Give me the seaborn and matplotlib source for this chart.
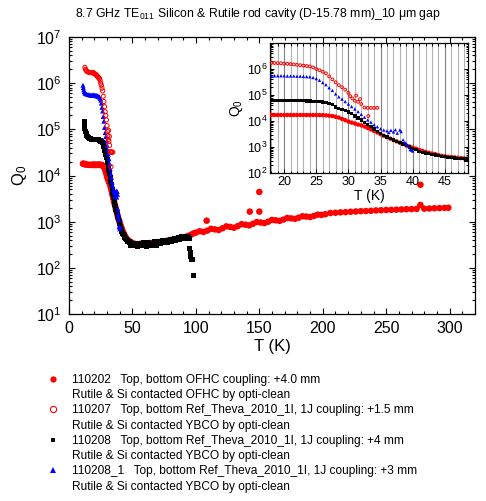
import numpy as np
import matplotlib
matplotlib.use("Agg")
import matplotlib.pyplot as plt
import seaborn as sns
from matplotlib.ticker import LogLocator, MultipleLocator, NullFormatter
from matplotlib.lines import Line2D

# ---------------- data ----------------
# 110202 (red filled circles)
T_202 = [11, 11.5, 12, 12.5, 13, 14, 15, 16, 17, 18,
         18.5, 19, 19.5, 20, 20.5, 21, 21.5, 22, 22.5, 23,
         23.5, 24, 24.5, 25, 25.5, 26, 26.5, 27, 27.5, 28,
         28.5, 29, 29.5, 30, 30.5, 31, 31.5, 32, 32.5, 33,
         33.5, 34, 34.5, 35, 35.5, 36, 36.5, 37, 37.5, 38,
         38.5, 39, 39.5, 40, 40.5, 41, 41.5, 42, 42.5, 43,
         43.5, 44, 44.5, 45, 45.5, 46, 46.5, 47, 47.5, 48,
         48.5, 49, 50, 52, 54, 56, 58, 60, 62, 64,
         66, 68, 70, 72, 74, 76, 78, 80, 82, 84,
         86, 88, 90, 92, 94, 96, 98, 100, 103, 106,
         109, 112, 115, 118, 121, 124, 127, 130, 133, 136,
         139, 142, 145, 148, 151, 154, 157, 160, 163, 166,
         169, 172, 175, 178, 181, 184, 187, 190, 193, 196,
         199, 202, 206, 210, 214, 218, 222, 226, 230, 234,
         238, 242, 246, 250, 254, 258, 262, 266, 270, 274,
         277, 280, 284, 288, 292, 296, 299,
         108.5, 142.5, 150, 150, 277]
Q_202 = [1.8e4, 1.8e4, 1.78e4, 1.76e4, 1.75e4, 1.72e4, 1.7e4, 1.7e4, 1.7e4, 1.7e4,
         1.7e4, 1.7e4, 1.7e4, 1.7e4, 1.7e4, 1.7e4, 1.7e4, 1.7e4, 1.7e4, 1.7e4,
         1.7e4, 1.7e4, 1.7e4, 1.7e4, 1.69e4, 1.68e4, 1.65e4, 1.6e4, 1.55e4, 1.45e4,
         1.35e4, 1.2e4, 1.08e4, 9.5e3, 8.7e3, 8.0e3, 7.3e3, 6.8e3, 6.1e3, 5.4e3,
         4.7e3, 4.1e3, 3.6e3, 3.1e3, 2.7e3, 2.4e3, 2.1e3, 1.85e3, 1.65e3, 1.45e3,
         1.3e3, 1.15e3, 1.05e3, 950, 860, 780, 710, 650, 600, 560,
         530, 490, 460, 440, 420, 410, 400, 385, 375, 365,
         360, 355, 345, 330, 320, 330, 335, 325, 335, 345,
         340, 350, 355, 365, 370, 380, 390, 400, 410, 420,
         430, 445, 455, 470, 490, 520, 555, 580, 620, 600,
         640, 700, 680, 660, 720, 790, 770, 740, 800, 880,
         860, 830, 900, 980, 960, 930, 1000, 1090, 1070, 1040,
         1110, 1200, 1180, 1150, 1220, 1310, 1290, 1260, 1330, 1420,
         1400, 1450, 1540, 1560, 1590, 1610, 1640, 1660, 1690, 1700,
         1720, 1750, 1770, 1790, 1800, 1820, 1840, 1860, 1870, 1890,
         2300, 1910, 1930, 1950, 1970, 1990, 2000,
         1050, 1650, 1650, 4400, 6300]

# 110207 (red open circles)
T_207 = [12.5, 13, 13.5, 14, 15, 16, 17, 18, 18.5, 19,
         19.5, 20, 20.5, 21, 21.5, 22, 22.5, 23, 23.5, 24,
         24.5, 25, 25.5, 26, 26.5, 27, 27.5, 28, 28.5, 29,
         29.5, 30, 30.3, 30.6, 31, 31.2, 31.5, 31.8, 32, 32.5,
         33, 33.1, 33.5, 34, 34.5]
Q_207 = [2.2e6, 2.0e6, 1.9e6, 1.8e6, 1.75e6, 1.7e6, 1.7e6, 1.7e6, 1.7e6, 1.68e6,
         1.65e6, 1.6e6, 1.58e6, 1.55e6, 1.5e6, 1.45e6, 1.4e6, 1.35e6, 1.3e6, 1.25e6,
         1.15e6, 1.0e6, 9e5, 7.8e5, 6.8e5, 5.2e5, 4e5, 3.1e5, 2.4e5, 2e5,
         1.6e5, 1.2e5, 9e4, 7.4e4, 6e4, 9.5e4, 5.5e4, 7e4, 4.5e4, 3.3e4,
         3.2e4, 1.55e4, 3.2e4, 3.2e4, 3.2e4]

# 110208 (black squares)
T_208 = [12, 12.3, 12.6, 13, 13.5, 14, 14.5, 15, 16, 17,
         18, 18.5, 19, 19.5, 20, 20.5, 21, 21.5, 22, 22.5,
         23, 23.5, 24, 24.5, 25, 25.5, 26, 26.5, 27, 27.5,
         28, 28.5, 29, 29.5, 30, 30.5, 31, 31.5, 32, 32.5,
         33, 33.5, 34, 34.5, 35, 35.5, 36, 36.5, 37, 37.5,
         38, 38.5, 39, 39.5, 40, 40.5, 41, 41.5, 42, 42.5,
         43, 43.5, 44, 44.5, 45, 45.5, 46, 46.5, 47, 47.5,
         48, 48.3, 48.6, 49, 50, 51, 52, 53, 54, 55,
         56, 57, 58, 59, 60, 61, 62, 63, 64, 65,
         66, 67, 68, 69, 70, 71, 72, 73, 74, 75,
         76, 77, 78, 79, 80, 81, 82, 83, 84, 85,
         86, 87, 88, 89, 90, 91, 92, 93, 94, 95,
         95.3, 95.6, 96, 96.5, 97, 98.4]
Q_208 = [1.5e5, 1.3e5, 1.05e5, 9e4, 8e4, 7.3e4, 7e4, 6.8e4, 6.4e4, 6.2e4,
         6e4, 6e4, 6e4, 6e4, 6e4, 6e4, 6e4, 6e4, 6e4, 6e4,
         6e4, 5.9e4, 5.8e4, 5.6e4, 5.5e4, 5.5e4, 5.4e4, 5.2e4, 4.8e4, 4.2e4,
         3.5e4, 3.1e4, 2.8e4, 2.5e4, 2.2e4, 1.9e4, 1.55e4, 1.3e4, 1.1e4, 9e3,
         7.5e3, 6.3e3, 5e3, 4e3, 3.3e3, 2.8e3, 2.4e3, 2.1e3, 1.85e3, 1.65e3,
         1.45e3, 1.3e3, 1.15e3, 1e3, 900, 780, 680, 620, 580, 550,
         520, 490, 460, 440, 420, 405, 395, 380, 370, 365,
         360, 310, 350, 330, 320, 320, 300, 330, 290, 310,
         340, 300, 320, 350, 310, 290, 330, 360, 320, 300,
         340, 370, 330, 310, 350, 380, 340, 360, 390, 350,
         370, 400, 360, 390, 420, 380, 400, 430, 400, 420,
         450, 410, 440, 470, 430, 450, 480, 440, 470, 430,
         260, 210, 175, 155, 155, 68]

# 110208_1 (blue triangles)
T_208_1 = [11, 11.3, 11.6, 12, 12.5, 13, 14, 15, 16, 17,
           18, 18.5, 19, 19.5, 20, 20.5, 21, 21.5, 22, 22.5,
           23, 23.5, 24, 24.5, 25, 25.5, 26, 26.5, 27, 27.5,
           28, 28.5, 29, 29.5, 30, 30.5, 31, 31.5, 32, 32.5,
           33, 33.5, 34, 34.5, 35, 35.5, 36, 36.3, 36.6, 37,
           37.3, 37.6, 38, 38.2, 38.5, 38.8, 39, 39.3, 39.6, 39.8,
           40]
Q_208_1 = [9e5, 8e5, 7.2e5, 6.6e5, 6.2e5, 6e5, 5.8e5, 5.7e5, 5.6e5, 5.5e5,
           5.5e5, 5.5e5, 5.5e5, 5.5e5, 5.5e5, 5.4e5, 5.4e5, 5.4e5, 5.3e5, 5.3e5,
           5.2e5, 5.1e5, 5e5, 4.7e5, 4.3e5, 3.7e5, 3e5, 2.5e5, 1.9e5, 1.5e5,
           1.1e5, 8.5e4, 7e4, 5.6e4, 4.5e4, 3.6e4, 2.9e4, 2.3e4, 1.8e4, 1.4e4,
           1.1e4, 9e3, 7.2e3, 6e3, 5e3, 4.5e3, 4.2e3, 3.6e3, 4.4e3, 3.8e3,
           4.6e3, 3.4e3, 4.5e3, 3.9e3, 1.9e3, 1.5e3, 1.3e3, 1.1e3, 800, 760,
           700]

legend_labels = [
    "110202   Top, bottom OFHC coupling: +4.0 mm",
    "Rutile & Si contacted OFHC by opti-clean",
    "110207   Top, bottom Ref_Theva_2010_1I, 1J coupling: +1.5 mm",
    "Rutile & Si contacted YBCO by opti-clean",
    "110208   Top, bottom Ref_Theva_2010_1I, 1J coupling: +4 mm",
    "Rutile & Si contacted YBCO by opti-clean",
    "110208_1   Top, bottom Ref_Theva_2010_1I, 1J coupling: +3 mm",
    "Rutile & Si contacted YBCO by opti-clean",
]
title = "8.7 GHz TE$_{011}$ Silicon & Rutile rod cavity (D-15.78 mm)_10 \u03bcm gap"

# ---------------- style ----------------
sns.set_style("ticks")
plt.rcParams['font.family'] = ['Liberation Sans', 'DejaVu Sans']
plt.rcParams['mathtext.fontset'] = 'custom'
plt.rcParams['mathtext.rm'] = 'Liberation Sans'
plt.rcParams['mathtext.it'] = 'Liberation Sans:italic'
plt.rcParams['mathtext.bf'] = 'Liberation Sans:bold'
plt.rcParams['axes.edgecolor'] = 'black'
plt.rcParams['xtick.color'] = 'black'
plt.rcParams['ytick.color'] = 'black'
plt.rcParams['text.color'] = 'black'
plt.rcParams['axes.labelcolor'] = 'black'

W, H = 486, 501
fig = plt.figure(figsize=(W / 100, H / 100), dpi=100)
ax = fig.add_axes([69 / W, 1 - 314 / H, 406 / W, 277 / H])
axin = fig.add_axes([270 / W, 1 - 173 / H, 198 / W, 130 / H])

RED = (1, 0, 0)
BLUE = (0, 0, 1)


def draw(a, scale, open_scale):
    sns.scatterplot(x=T_202, y=Q_202, ax=a, marker='o', s=22 * scale,
                    color=RED, edgecolor='none', linewidth=0, legend=False, zorder=3)
    sns.scatterplot(x=T_208, y=Q_208, ax=a, marker='s', s=13 * scale,
                    color='black', edgecolor='none', linewidth=0, legend=False, zorder=4)
    sns.scatterplot(x=T_208_1, y=Q_208_1, ax=a, marker='^', s=13 * scale,
                    color=BLUE, edgecolor='none', linewidth=0, legend=False, zorder=5)
    sns.scatterplot(x=T_207, y=Q_207, ax=a, marker='o', s=9 * open_scale,
                    facecolors='none', edgecolors=RED, linewidth=0.7, legend=False, zorder=6)


draw(ax, 1.0, 1.0)
draw(axin, 0.45, 0.45)

# main axes
ax.set_yscale('log')
ax.set_xlim(0, 320)
ax.set_ylim(10, 1e7)
ax.xaxis.set_major_locator(MultipleLocator(50))
ax.xaxis.set_minor_locator(MultipleLocator(10))
ax.yaxis.set_major_locator(LogLocator(base=10, numticks=10))
ax.yaxis.set_minor_locator(LogLocator(base=10, subs=np.arange(2, 10), numticks=20))
ax.yaxis.set_minor_formatter(NullFormatter())
ax.tick_params(which='both', direction='in', top=True, right=True, width=0.8, colors='black')
ax.tick_params(which='major', length=4.5, labelsize=11.5, pad=5)
ax.tick_params(which='minor', length=2.5)
for sp in ax.spines.values():
    sp.set_linewidth(0.9)
    sp.set_color('black')
ax.set_xlabel("T (K)", fontsize=12, labelpad=2)
ax.set_ylabel("Q$_0$", fontsize=12, labelpad=5)

# inset
axin.set_facecolor('white')
axin.set_yscale('log')
axin.set_xlim(17.8, 48.6)
axin.xaxis.set_major_locator(MultipleLocator(5))
axin.xaxis.set_minor_locator(MultipleLocator(1))
axin.yaxis.set_minor_locator(LogLocator(base=10, subs=np.arange(2, 10), numticks=20))
axin.yaxis.set_minor_formatter(NullFormatter())
axin.set_yticks([1e2, 1e3, 1e4, 1e5, 1e6])
axin.set_ylim(100, 1e7)
axin.grid(True, which='minor', axis='x', color='#b4b4b4', linewidth=0.8, zorder=0)
axin.grid(True, which='major', axis='x', color='#808080', linewidth=0.8, zorder=0)
axin.set_axisbelow(True)
axin.tick_params(which='both', direction='in', top=True, right=True, width=0.7, colors='black')
axin.tick_params(which='major', length=3, labelsize=9, pad=2)
axin.tick_params(which='minor', length=1.8)
for sp in axin.spines.values():
    sp.set_linewidth(0.9)
    sp.set_color('black')
axin.set_xlabel("T (K)", fontsize=10, labelpad=1)
axin.set_ylabel("Q$_0$", fontsize=10, labelpad=1)

fig.text(258 / W, 1 - 14 / H, title, ha='center', va='center', fontsize=8.8)

# legend
handles = [
    Line2D([], [], linestyle='none', marker='o', markersize=4.5, color=RED, markeredgewidth=0),
    Line2D([], [], linestyle='none', marker=''),
    Line2D([], [], linestyle='none', marker='o', markersize=4.5, markerfacecolor='none',
           markeredgecolor=RED, markeredgewidth=0.8),
    Line2D([], [], linestyle='none', marker=''),
    Line2D([], [], linestyle='none', marker='s', markersize=3.5, color='black', markeredgewidth=0),
    Line2D([], [], linestyle='none', marker=''),
    Line2D([], [], linestyle='none', marker='^', markersize=3.8, color=BLUE, markeredgewidth=0),
    Line2D([], [], linestyle='none', marker=''),
]
fig.legend(handles, legend_labels, loc='upper left', bbox_to_anchor=(46 / W, 1 - 374 / H),
           frameon=False, fontsize=8.6, handlelength=1.2, handletextpad=1.0,
           labelspacing=0.27, borderpad=0, borderaxespad=0)

fig.savefig("out.png", dpi=100)
